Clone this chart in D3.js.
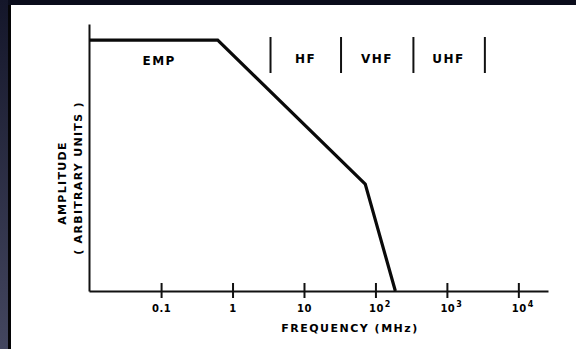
<!DOCTYPE html>
<html>
<head>
<meta charset="utf-8">
<script src="https://cdn.jsdelivr.net/npm/d3@7"></script>
<style>
  html, body { margin: 0; padding: 0; background: #0a0c1b; }
  svg { display: block; }
  text { font-family: "DejaVu Sans", "Liberation Sans", Arial, sans-serif; font-weight: bold; fill: #000; }
</style>
</head>
<body>
<svg id="chart" width="576" height="349"></svg>
<script>
// spectrum curve (frequency in MHz, amplitude in arbitrary units)
var curveFreq = [0.01, 0.62, 72, 190];
var curveAmp = [1.0, 1.0, 0.426, 0];

// decade ticks
var tickFreq = [0.1, 1, 10, 100, 1000, 10000];
var tickBase = ['0.1', '1', '10', '10', '10', '10'];
var tickExp = ['', '', '', '2', '3', '4'];

// band boundaries and labels
var bandEdges = [3.4, 33, 340, 3400];
var bandNames = ['EMP', 'HF', 'VHF', 'UHF'];
var bandCenters = [0.094, 10.5, 105, 1050];

var svg = d3.select('#chart');

// page background: dark strip on the left, white sheet
var defs = svg.append('defs');
var grad = defs.append('linearGradient')
    .attr('id', 'edge')
    .attr('x1', 0).attr('y1', 0).attr('x2', 0).attr('y2', 1);
grad.append('stop').attr('offset', '0%').attr('stop-color', '#14162a');
grad.append('stop').attr('offset', '100%').attr('stop-color', '#43465f');
svg.append('rect').attr('x', 0).attr('y', 0).attr('width', 576).attr('height', 349).attr('fill', '#0a0c1b');
svg.append('rect').attr('x', 0).attr('y', 0).attr('width', 8).attr('height', 349).attr('fill', 'url(#edge)');
svg.append('rect').attr('x', 8).attr('y', 5).attr('width', 3).attr('height', 344).attr('fill', '#050507');
svg.append('rect').attr('x', 11).attr('y', 5).attr('width', 565).attr('height', 344).attr('fill', '#ffffff');

var x = d3.scaleLog().domain([0.0098, 26000]).range([89, 548]);
var y = d3.scaleLinear().domain([0, 1.064]).range([291, 24]);

// x axis
var xAxis = d3.axisBottom(x)
    .tickValues(tickFreq)
    .tickSize(7)
    .tickSizeOuter(0)
    .tickFormat('');
var gx = svg.append('g')
    .attr('transform', 'translate(0,' + y(0) + ')')
    .call(xAxis);
gx.select('.domain').attr('stroke', '#111').attr('stroke-width', 2);
gx.selectAll('.tick line')
    .attr('y1', -8)
    .attr('y2', 7)
    .attr('stroke', '#111')
    .attr('stroke-width', 2);

var labels = gx.selectAll('.tick').append('text')
    .attr('y', 21)
    .attr('text-anchor', 'middle')
    .style('font-size', '10px')
    .style('letter-spacing', '0.5px');
labels.each(function(d, i){
    var t = d3.select(this);
    t.append('tspan').text(tickBase[i]);
    if(tickExp[i]){
        t.attr('dx', 4);
        t.append('tspan')
            .attr('dy', -5)
            .attr('dx', 1)
            .style('font-size', '8px')
            .text(tickExp[i]);
    }
});

// y axis
var yAxis = d3.axisLeft(y).tickValues([]).tickSizeOuter(0);
var gy = svg.append('g')
    .attr('transform', 'translate(' + x.range()[0] + ',0)')
    .call(yAxis);
gy.select('.domain').attr('stroke', '#111').attr('stroke-width', 2);

// spectrum curve
var pts = curveFreq.map(function(f, i){ return [f, curveAmp[i]]; });
var line = d3.line()
    .x(function(d){ return x(d[0]); })
    .y(function(d){ return y(d[1]); });
svg.append('path')
    .datum(pts)
    .attr('d', line)
    .attr('fill', 'none')
    .attr('stroke', '#0a0a0a')
    .attr('stroke-width', 3.2)
    .attr('stroke-linejoin', 'miter');

// band dividers
svg.selectAll('line.band')
    .data(bandEdges)
    .enter().append('line')
    .attr('class', 'band')
    .attr('x1', function(d){ return x(d); })
    .attr('x2', function(d){ return x(d); })
    .attr('y1', 37)
    .attr('y2', 73)
    .attr('stroke', '#111')
    .attr('stroke-width', 2);

svg.selectAll('text.band')
    .data(bandNames)
    .enter().append('text')
    .attr('class', 'band')
    .attr('x', function(d, i){ return x(bandCenters[i]); })
    .attr('y', function(d, i){ return i === 0 ? 65 : 63; })
    .attr('text-anchor', 'middle')
    .style('font-size', '12px')
    .style('letter-spacing', '1.5px')
    .text(function(d){ return d; });

// axis titles
svg.append('text')
    .attr('x', 350)
    .attr('y', 332)
    .attr('text-anchor', 'middle')
    .style('font-size', '11px')
    .style('letter-spacing', '1.5px')
    .text('FREQUENCY (MHz)');

svg.append('text')
    .attr('transform', 'translate(66,183) rotate(-90)')
    .attr('text-anchor', 'middle')
    .style('font-size', '11px')
    .style('letter-spacing', '1.3px')
    .text('AMPLITUDE');

svg.append('text')
    .attr('transform', 'translate(82,178) rotate(-90)')
    .attr('text-anchor', 'middle')
    .style('font-size', '11px')
    .style('letter-spacing', '1.3px')
    .text('( ARBITRARY  UNITS )');
</script>
</body>
</html>
